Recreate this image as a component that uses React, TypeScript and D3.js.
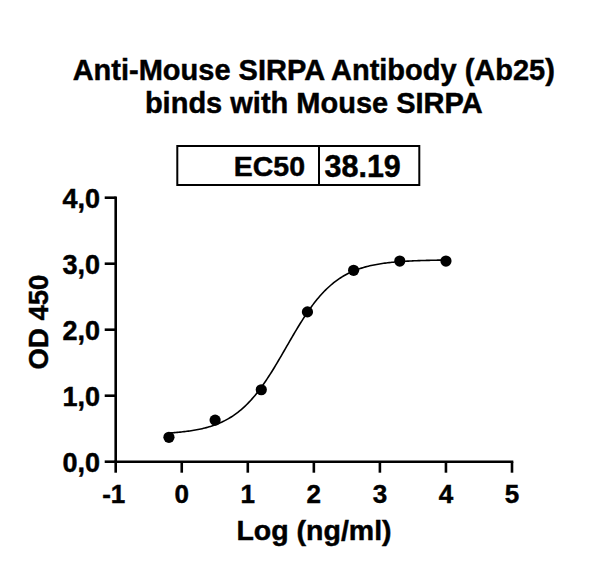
import React from "react";
import * as d3 from "d3";

const titleLines = ["Anti-Mouse SIRPA Antibody (Ab25)", "binds with Mouse SIRPA"];
const xLabel = "Log (ng/ml)";
const yLabel = "OD 450";
const ec50Label = "EC50";
const ec50Value = 38.19;

const logConc = [-0.194, 0.505, 1.204, 1.903, 2.602, 3.301, 4.0];
const od450 = [0.37, 0.63, 1.09, 2.27, 2.9, 3.04, 3.04];

const xTicks = [-1, 0, 1, 2, 3, 4, 5];
const yTicks = [0, 1, 2, 3, 4];

// 4PL fit parameters
const fitBottom = 0.41;
const fitTop = 3.06;
const fitHill = 1.14;
const fitLogEC50 = Math.log10(ec50Value);

const FONT = "'Liberation Sans', Arial, Helvetica, sans-serif";

export default function App() {
  const W = 600;
  const H = 570;
  const x = d3.scaleLinear().domain([-1, 5]).range([115.7, 512]);
  const y = d3.scaleLinear().domain([0, 4]).range([461.7, 197.7]);

  const fourPL = (lx: number) =>
    fitBottom + (fitTop - fitBottom) / (1 + Math.pow(10, (fitLogEC50 - lx) * fitHill));

  const xMin = d3.min(logConc) as number;
  const xMax = d3.max(logConc) as number;
  const curveX = d3.range(0, 201).map((i) => xMin + ((xMax - xMin) * i) / 200);
  const line = d3
    .line<number>()
    .x((d) => x(d))
    .y((d) => y(fourPL(d)))
    .curve(d3.curveLinear);

  const fmtY = (v: number) => v.toFixed(1).replace(".", ",");
  const [x0, x1] = x.range();
  const [y0, y1] = y.range();
  const ts = { stroke: "#000", strokeWidth: 0.45 };

  return (
    <svg
      width={W}
      height={H}
      style={{ position: "absolute", left: 0, top: 0, background: "#fff" }}
      fontFamily={FONT}
      fontWeight="bold"
    >
      <rect x={0} y={0} width={W} height={H} fill="#fff" />
      {/* Title */}
      {titleLines.map((t, i) => (
        <text key={i} x={313.8} y={80 + i * 33} textAnchor="middle" fontSize={29} fill="#000" {...ts}>
          {t}
        </text>
      ))}

      {/* EC50 box */}
      <g>
        <rect x={177.3} y={146} width={242} height={39} fill="none" stroke="#000" strokeWidth={2} />
        <line x1={319} x2={319} y1={146} y2={185} stroke="#000" strokeWidth={2} />
        <text x={305} y={176} textAnchor="end" fontSize={28.5} fill="#000" {...ts}>
          {ec50Label}
        </text>
        <text x={324.5} y={176.5} textAnchor="start" fontSize={30.5} fill="#000" {...ts}>
          {ec50Value.toFixed(2)}
        </text>
      </g>

      {/* Axes */}
      <g stroke="#000" strokeWidth={2.6} fill="none">
        <line x1={x0} x2={x0} y1={y0 + 1.3} y2={y1 - 1.3} />
        <line x1={x0 - 1.3} x2={x1 + 1.3} y1={y0} y2={y0} />
        {yTicks.map((t) => (
          <line key={"yt" + t} x1={x0 - 11} x2={x0} y1={y(t)} y2={y(t)} />
        ))}
        {xTicks.map((t) => (
          <line key={"xt" + t} x1={x(t)} x2={x(t)} y1={y0} y2={y0 + 11} />
        ))}
      </g>
      {yTicks.map((t) => (
        <text key={"yl" + t} x={100} y={y(t) + 10} textAnchor="end" fontSize={27} fill="#000" {...ts}>
          {fmtY(t)}
        </text>
      ))}
      {xTicks.map((t) => (
        <text key={"xl" + t} x={x(t) - (t < 0 ? 2 : 0)} y={503} textAnchor="middle" fontSize={26} fill="#000" {...ts}>
          {String(t)}
        </text>
      ))}

      {/* Axis labels */}
      <text x={314} y={540} textAnchor="middle" fontSize={28.5} fill="#000" {...ts}>
        {xLabel}
      </text>
      <text
        transform={`translate(47.5, 322) rotate(-90)`}
        textAnchor="middle"
        fontSize={27.5}
        fill="#000"
        {...ts}
      >
        {yLabel}
      </text>

      {/* Fit curve */}
      <path d={line(curveX) || ""} fill="none" stroke="#000" strokeWidth={1.6} />

      {/* Points */}
      {logConc.map((lx, i) => (
        <circle key={"p" + i} cx={x(lx)} cy={y(od450[i])} r={5.6} fill="#000" />
      ))}
    </svg>
  );
}
